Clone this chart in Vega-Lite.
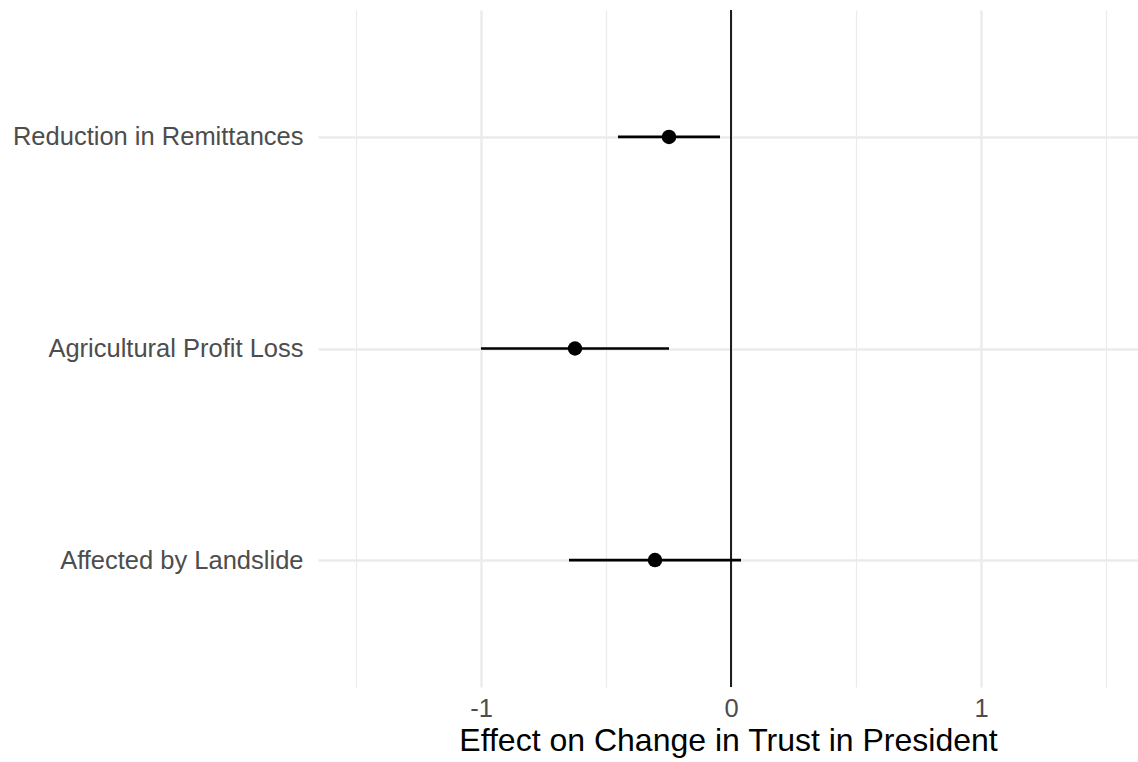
{
  "$schema": "https://vega.github.io/schema/vega-lite/v6.json",
  "width": 820,
  "height": 677,
  "autosize": {"type": "none"},
  "padding": {"left": 318, "top": 10, "right": 0, "bottom": 75},
  "background": "white",
  "config": {
    "view": {"stroke": null},
    "font": "Liberation Sans"
  },
  "data": {
    "values": [
      {"term": "Reduction in Remittances", "est": -0.248, "lo": -0.452, "hi": -0.044},
      {"term": "Agricultural Profit Loss", "est": -0.624, "lo": -1.0, "hi": -0.248},
      {"term": "Affected by Landslide", "est": -0.304, "lo": -0.648, "hi": 0.04}
    ]
  },
  "layer": [
    {
      "mark": {"type": "rule", "color": "black", "strokeWidth": 2.7},
      "encoding": {
        "y": {
          "field": "term",
          "type": "nominal",
          "sort": ["Reduction in Remittances", "Agricultural Profit Loss", "Affected by Landslide"],
          "scale": {"type": "point", "padding": 0.6},
          "axis": {
            "title": null,
            "domain": false,
            "ticks": false,
            "labelFontSize": 25.5,
            "labelColor": "#4d4d4d",
            "labelPadding": 15,
            "labelLimit": 0,
            "grid": true,
            "gridColor": "#ebebeb",
            "gridWidth": 2.4
          }
        },
        "x": {
          "field": "lo",
          "type": "quantitative",
          "scale": {"domain": [-1.652, 1.628], "nice": false, "zero": false},
          "axis": {
            "title": "Effect on Change in Trust in President",
            "titleFontSize": 32,
            "titleFontWeight": "normal",
            "titleColor": "black",
            "titlePadding": 4,
            "values": [-1.5, -1, -0.5, 0, 0.5, 1, 1.5],
            "labelExpr": "datum.value % 1 === 0 ? (datum.value < 0 ? '-' : '') + abs(datum.value) : ''",
            "labelFontSize": 25.5,
            "labelColor": "#4d4d4d",
            "labelPadding": 9,
            "domain": false,
            "ticks": false,
            "grid": true,
            "gridColor": "#ebebeb",
            "gridWidth": {"condition": {"test": "datum.value % 1 === 0", "value": 2.4}, "value": 1.2}
          }
        },
        "x2": {"field": "hi"}
      }
    },
    {
      "mark": {"type": "rule", "color": "black", "strokeWidth": 1},
      "encoding": {"x": {"datum": 0, "type": "quantitative"}}
    },
    {
      "mark": {"type": "point", "filled": true, "color": "black", "opacity": 1, "size": 210},
      "encoding": {
        "y": {"field": "term", "type": "nominal", "sort": ["Reduction in Remittances", "Agricultural Profit Loss", "Affected by Landslide"]},
        "x": {"field": "est", "type": "quantitative"}
      }
    }
  ]
}
